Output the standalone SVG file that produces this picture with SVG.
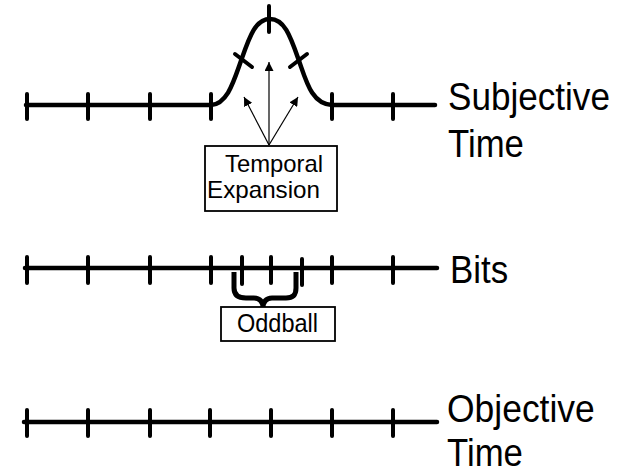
<svg xmlns="http://www.w3.org/2000/svg" width="625" height="473" viewBox="0 0 625 473">
  <style>
    .axis { stroke: #000; stroke-width: 4.5; fill: none; stroke-linecap: round; stroke-linejoin: round; }
    .tick { stroke: #000; stroke-width: 4; stroke-linecap: round; }
    .label { font-family: "Liberation Sans", Arial, sans-serif; font-size: 36px; fill: #000; }
    .boxtext { font-family: "Liberation Sans", Arial, sans-serif; font-size: 24px; fill: #000; }
    .box { fill: #fff; stroke: #000; stroke-width: 1.8; }
    .arrow { stroke: #000; stroke-width: 1.2; fill: none; }
    .brace { stroke: #000; stroke-width: 5; fill: none; stroke-linecap: butt; stroke-linejoin: round; }
  </style>
  <defs>
    <marker id="head" viewBox="0 0 10 10" refX="10" refY="5" markerWidth="9" markerHeight="9" markerUnits="userSpaceOnUse" orient="auto">
      <path d="M0,0 L10,5 L0,10 Z" fill="#000"/>
    </marker>
  </defs>

  <!-- Subjective time: flat line with a bell-shaped bulge -->
  <g id="subjective-time">
    <path class="axis" d="M26,105 H211 C228,104 234,80 242,58 C250,35 256,19 270,19 C284,19 290,35 298,58 C306,80 311,104 332,105 H435"/>
    <line class="tick" x1="27" y1="94" x2="27" y2="119"/>
    <line class="tick" x1="88" y1="94" x2="88" y2="119"/>
    <line class="tick" x1="150" y1="94" x2="150" y2="119"/>
    <line class="tick" x1="211" y1="94" x2="211" y2="119"/>
    <line class="tick" x1="332" y1="94" x2="332" y2="119"/>
    <line class="tick" x1="393" y1="94" x2="393" y2="119"/>
    <line class="tick" x1="269" y1="6" x2="269" y2="32"/>
    <line class="tick" x1="235" y1="54" x2="252" y2="67"/>
    <line class="tick" x1="290" y1="67" x2="307" y2="54"/>
    <text class="label" transform="translate(448,110) scale(0.975,1.1)">Subjective</text>
    <text class="label" transform="translate(448,157) scale(0.965,1.1)">Time</text>
  </g>

  <!-- Bits: evenly spaced ticks plus two extra in the middle -->
  <g id="bits">
    <line class="axis" x1="25" y1="268" x2="437" y2="268"/>
    <line class="tick" x1="27" y1="257" x2="27" y2="283"/>
    <line class="tick" x1="88" y1="257" x2="88" y2="283"/>
    <line class="tick" x1="150" y1="257" x2="150" y2="283"/>
    <line class="tick" x1="211" y1="257" x2="211" y2="283"/>
    <line class="tick" x1="242" y1="257" x2="242" y2="284"/>
    <line class="tick" x1="271" y1="257" x2="271" y2="283"/>
    <line class="tick" x1="302" y1="259" x2="302" y2="285"/>
    <line class="tick" x1="332" y1="257" x2="332" y2="283"/>
    <line class="tick" x1="393" y1="257" x2="393" y2="283"/>
    <text class="label" transform="translate(450,283) scale(0.97,1.1)">Bits</text>
  </g>

  <!-- Objective time: evenly spaced ticks -->
  <g id="objective-time">
    <line class="axis" x1="24" y1="422" x2="437" y2="422"/>
    <line class="tick" x1="27" y1="410" x2="27" y2="436"/>
    <line class="tick" x1="88" y1="410" x2="88" y2="436"/>
    <line class="tick" x1="150" y1="410" x2="150" y2="436"/>
    <line class="tick" x1="210" y1="410" x2="210" y2="436"/>
    <line class="tick" x1="271" y1="410" x2="271" y2="436"/>
    <line class="tick" x1="332" y1="410" x2="332" y2="436"/>
    <line class="tick" x1="393" y1="410" x2="393" y2="436"/>
    <text class="label" transform="translate(447,422) scale(0.985,1.1)">Objective</text>
    <text class="label" transform="translate(447,466) scale(0.965,1.1)">Time</text>
  </g>

  <!-- Connectors: arrows into the bulge and the oddball brace -->
  <g id="connectors">
    <line class="arrow" x1="269" y1="145" x2="269" y2="62" marker-end="url(#head)"/>
    <line class="arrow" x1="269" y1="145" x2="244" y2="97" marker-end="url(#head)"/>
    <line class="arrow" x1="269" y1="145" x2="298" y2="97" marker-end="url(#head)"/>
    <path class="brace" d="M234,272 V288 C234,295 238,298 246,298 H254 C260,298 263,302 263,308 C263,302 266,298 272,298 H286 C293,298 296,295 296,288 V272"/>
  </g>

  <g id="temporal-expansion">
    <rect class="box" x="205" y="146" width="132" height="65"/>
    <text class="boxtext" x="225" y="172" textLength="98" lengthAdjust="spacingAndGlyphs">Temporal</text>
    <text class="boxtext" x="207" y="198" textLength="113" lengthAdjust="spacingAndGlyphs">Expansion</text>
  </g>

  <g id="oddball">
    <rect class="box" x="221" y="307" width="114" height="34"/>
    <text class="boxtext" x="237" y="332" style="font-size:25px" textLength="81" lengthAdjust="spacingAndGlyphs">Oddball</text>
  </g>
</svg>
